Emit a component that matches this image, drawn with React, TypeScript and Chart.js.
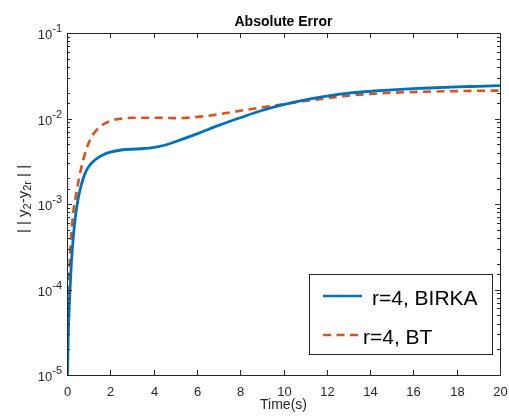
import React, { useEffect, useRef } from "react";
import { Chart, registerables } from "chart.js";

Chart.register(...registerables);

// ---- data ----
const birkaT = [0.02, 0.06, 0.1, 0.14, 0.2, 0.28, 0.37, 0.5, 0.6, 0.75, 0.91, 1.1, 1.37, 1.7, 2.0, 2.5, 3.2, 3.8, 4.4, 5, 6, 7, 8, 9, 10, 11, 12, 13, 14, 15, 16, 17, 18, 19, 20];
const birkaY = [1e-5, 3e-5, 6e-5, 1e-4, 2e-4, 3.8e-4, 6.5e-4, 1.1e-3, 1.45e-3, 2.0e-3, 2.5e-3, 2.95e-3, 3.4e-3, 3.8e-3, 4.05e-3, 4.28e-3, 4.4e-3, 4.5e-3, 4.8e-3, 5.35e-3, 6.6e-3, 8.3e-3, 1.02e-2, 1.24e-2, 1.45e-2, 1.65e-2, 1.83e-2, 1.98e-2, 2.08e-2, 2.16e-2, 2.23e-2, 2.29e-2, 2.34e-2, 2.38e-2, 2.42e-2];

const btT = [0.01, 0.03, 0.06, 0.09, 0.14, 0.2, 0.29, 0.4, 0.52, 0.75, 1.06, 1.3, 1.52, 1.8, 2.14, 2.6, 3.1, 4, 5, 6, 7, 8, 9, 10, 11, 12, 13, 14, 15, 16, 17, 18, 19, 20];
const btY = [1e-5, 2e-5, 6e-5, 1.2e-4, 2.5e-4, 4.5e-4, 8e-4, 1.2e-3, 1.8e-3, 3.3e-3, 5.6e-3, 7.0e-3, 8.0e-3, 8.9e-3, 9.6e-3, 1.0e-2, 1.02e-2, 1.02e-2, 1.01e-2, 1.04e-2, 1.12e-2, 1.23e-2, 1.35e-2, 1.47e-2, 1.6e-2, 1.73e-2, 1.85e-2, 1.94e-2, 2.0e-2, 2.04e-2, 2.07e-2, 2.09e-2, 2.11e-2, 2.12e-2];

const seriesLabels = ["r=4, BIRKA", "r=4, BT"];
const chartTitle = "Absolute Error";
const xTitle = "Time(s)";

const BLUE = "#0072BD";
const RED = "#D95319";
const AXIS = "#262626";
const FONT = "'Liberation Sans', Arial, Helvetica, sans-serif";

const matlabPlugin = {
  id: "matlabDecor",
  afterDraw(chart: any) {
    const ctx: CanvasRenderingContext2D = chart.ctx;
    const { left, right, top, bottom } = chart.chartArea;
    const xs = chart.scales.x;
    const ys = chart.scales.y;
    ctx.save();
    ctx.strokeStyle = AXIS;
    ctx.fillStyle = AXIS;
    ctx.lineWidth = 1;

    // box
    ctx.beginPath();
    ctx.rect(Math.round(left) + 0.5, Math.round(top) + 0.5, Math.round(right - left), Math.round(bottom - top));
    ctx.stroke();

    // x ticks (inside, bottom & top)
    ctx.font = `13px ${FONT}`;
    ctx.textAlign = "center";
    ctx.textBaseline = "alphabetic";
    for (const t of xs.ticks) {
      const px = Math.round(xs.getPixelForValue(t.value)) + 0.5;
      ctx.beginPath();
      ctx.moveTo(px, bottom);
      ctx.lineTo(px, bottom - 5);
      ctx.moveTo(px, top);
      ctx.lineTo(px, top + 5);
      ctx.stroke();
      ctx.fillText(String(t.value), px, bottom + 20.5);
    }

    // y ticks (log, inside, left & right)
    for (const t of ys.ticks) {
      const v = t.value;
      const lg = Math.log10(v);
      const major = Math.abs(lg - Math.round(lg)) < 1e-9;
      const py = Math.round(ys.getPixelForValue(v)) + 0.5;
      const len = major ? 5 : 3;
      ctx.beginPath();
      ctx.moveTo(left, py);
      ctx.lineTo(left + len, py);
      ctx.moveTo(right, py);
      ctx.lineTo(right - len, py);
      ctx.stroke();
      if (major) {
        const exp = String(Math.round(lg));
        ctx.textAlign = "right";
        ctx.font = `11px ${FONT}`;
        const ew = ctx.measureText(exp).width;
        const xr = left - 5;
        ctx.fillText(exp, xr, py - 2);
        ctx.font = `13px ${FONT}`;
        ctx.fillText("10", xr - ew, py + 5);
      }
    }

    // title
    ctx.textAlign = "center";
    ctx.font = `bold 14px ${FONT}`;
    ctx.fillStyle = "#000000";
    ctx.fillText(chartTitle, (left + right) / 2, 25.5);

    // x title
    ctx.fillStyle = AXIS;
    ctx.font = `14px ${FONT}`;
    ctx.fillText(xTitle, (left + right) / 2, 409);

    // y title: ||y_2-y_2r||
    const parts: [string, boolean][] = [["| | y", false], ["2", true], ["-y", false], ["2r", true], [" | |", false]];
    ctx.save();
    ctx.translate(28, (top + bottom) / 2 - 5);
    ctx.rotate(-Math.PI / 2);
    ctx.textAlign = "left";
    let total = 0;
    for (const [s, sub] of parts) {
      ctx.font = sub ? `11px ${FONT}` : `15px ${FONT}`;
      total += ctx.measureText(s).width;
    }
    let cx = -total / 2;
    for (const [s, sub] of parts) {
      ctx.font = sub ? `11px ${FONT}` : `15px ${FONT}`;
      ctx.fillText(s, cx, sub ? 3 : 0);
      cx += ctx.measureText(s).width;
    }
    ctx.restore();

    // legend
    const lx = 309.5, ly = 274.5, lw = 183, lh = 80;
    ctx.fillStyle = "#ffffff";
    ctx.fillRect(lx, ly, lw, lh);
    ctx.strokeStyle = AXIS;
    ctx.lineWidth = 1;
    ctx.strokeRect(lx, ly, lw, lh);

    ctx.lineWidth = 2.6;
    ctx.strokeStyle = BLUE;
    ctx.beginPath();
    ctx.moveTo(323, 296);
    ctx.lineTo(362, 296);
    ctx.stroke();

    ctx.strokeStyle = RED;
    ctx.setLineDash([8, 5.5]);
    ctx.beginPath();
    ctx.moveTo(323, 335);
    ctx.lineTo(362, 335);
    ctx.stroke();
    ctx.setLineDash([]);

    ctx.fillStyle = "#000000";
    ctx.font = `21px ${FONT}`;
    ctx.textAlign = "left";
    ctx.fillText(seriesLabels[0], 372, 304.5);
    ctx.fillText(seriesLabels[1], 363, 343.5);

    ctx.restore();
  },
};

export default function App() {
  const ref = useRef<HTMLCanvasElement | null>(null);

  useEffect(() => {
    document.body.style.margin = "0";
    if (!ref.current) return;
    const chart = new Chart(ref.current, {
      type: "scatter",
      data: {
        datasets: [
          {
            label: seriesLabels[0],
            data: birkaT.map((t, i) => ({ x: t, y: birkaY[i] })),
            showLine: true,
            borderColor: BLUE,
            backgroundColor: BLUE,
            borderWidth: 2.8,
            pointRadius: 0,
            cubicInterpolationMode: "monotone",
          },
          {
            label: seriesLabels[1],
            data: btT.map((t, i) => ({ x: t, y: btY[i] })),
            showLine: true,
            borderColor: RED,
            backgroundColor: RED,
            borderWidth: 2.6,
            borderDash: [8, 5.5],
            pointRadius: 0,
            cubicInterpolationMode: "monotone",
          },
        ],
      },
      options: {
        animation: false,
        responsive: false,
        devicePixelRatio: 1,
        layout: { padding: { left: 0, right: 9, top: 33, bottom: 0 } },
        plugins: {
          legend: { display: false },
          tooltip: { enabled: false },
          title: { display: false },
        },
        scales: {
          x: {
            type: "linear",
            min: 0,
            max: 20,
            ticks: { stepSize: 2, display: false },
            grid: { display: false },
            border: { display: false },
            afterFit: (s: any) => {
              s.height = 43;
            },
          },
          y: {
            type: "logarithmic",
            min: 1e-5,
            max: 1e-1,
            ticks: { display: false },
            grid: { display: false },
            border: { display: false },
            afterFit: (s: any) => {
              s.width = 67;
            },
          },
        },
      } as any,
      plugins: [matlabPlugin],
    });
    return () => chart.destroy();
  }, []);

  return (
    <div style={{ position: "absolute", left: 0, top: 0, width: 509, height: 418, background: "#fff" }}>
      <canvas ref={ref} width={509} height={418} style={{ display: "block" }} />
    </div>
  );
}
